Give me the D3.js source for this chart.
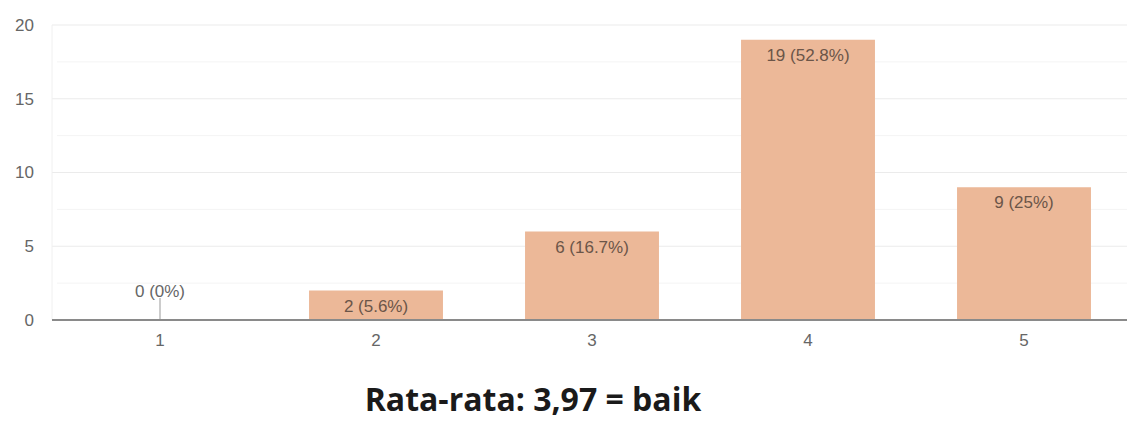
<!DOCTYPE html>
<html><head><meta charset="utf-8">
<script src="https://cdn.jsdelivr.net/npm/d3@7"></script>
<style>body{margin:0;background:#fff}svg{display:block}</style>
</head><body>
<svg id="c" width="1127" height="421"></svg>
<script>
const categories = ["1","2","3","4","5"];
const counts = [0, 2, 6, 19, 9];
const percentLabels = ["0%","5.6%","16.7%","52.8%","25%"];
const yTicks = [0,5,10,15,20];
const minorTicks = [2.5,7.5,12.5,17.5];
const title = "Rata-rata: 3,97 = baik";

const svg = d3.select("#c");
const m = {left:52, right:1132, top:25, bottom:320};
const x = d3.scaleBand().domain(categories).range([m.left, m.right]).paddingInner(0.38).paddingOuter(0.19);
const y = d3.scaleLinear().domain([0,20]).range([m.bottom, m.top]);
const FONT = "Liberation Sans, Arial, sans-serif";

// grid
svg.append("g").selectAll("line").data(minorTicks).join("line")
  .attr("x1", m.left+5).attr("x2", 1127).attr("y1", d=>y(d)).attr("y2", d=>y(d))
  .attr("stroke", "#f4f4f4").attr("stroke-width", 1);
svg.append("g").selectAll("line").data(yTicks.filter(d=>d>0)).join("line")
  .attr("x1", m.left).attr("x2", 1127).attr("y1", d=>y(d)).attr("y2", d=>y(d))
  .attr("stroke", "#ebebeb").attr("stroke-width", 1);
svg.append("line").attr("x1", m.left).attr("x2", m.left).attr("y1", y(20)).attr("y2", y(0))
  .attr("stroke","#f0f0f0");

// y axis labels
const yAxis = d3.axisLeft(y).tickValues(yTicks).tickSize(0).tickPadding(0);
const gy = svg.append("g").attr("transform", `translate(34,0)`).call(yAxis);
gy.select(".domain").remove();
gy.selectAll("text").attr("font-family",FONT).attr("font-size",17).attr("fill","#666");

// bars
const data = categories.map((c,i)=>({c, v:counts[i], p:percentLabels[i]}));
svg.append("g").selectAll("rect").data(data).join("rect")
  .attr("x", d=>x(d.c)).attr("width", x.bandwidth())
  .attr("y", d=>y(d.v)).attr("height", d=>y(0)-y(d.v))
  .attr("fill", "#ecb898");

// zero-value stub
svg.append("g").selectAll("line").data(data.filter(d=>d.v===0)).join("line")
  .attr("x1", d=>x(d.c)+x.bandwidth()/2).attr("x2", d=>x(d.c)+x.bandwidth()/2)
  .attr("y1", y(0)-22).attr("y2", y(0)).attr("stroke","#999").attr("stroke-width",1);

// x axis
const xAxis = d3.axisBottom(x).tickSize(0).tickPadding(14);
const gx = svg.append("g").attr("transform", `translate(0,${y(0)})`).call(xAxis);
gx.select(".domain").remove();
gx.selectAll("text").attr("font-family",FONT).attr("font-size",17).attr("fill","#666");
svg.append("line").attr("x1", m.left).attr("x2", 1127).attr("y1", y(0)).attr("y2", y(0))
  .attr("stroke","#8a8a8a").attr("stroke-width",2);

// value labels
svg.append("g").selectAll("text").data(data).join("text")
  .attr("x", d=>x(d.c)+x.bandwidth()/2)
  .attr("y", d=> d.v===0 ? y(0)-23 : y(d.v)+21)
  .attr("text-anchor","middle")
  .attr("font-family",FONT).attr("font-size",17)
  .attr("fill", d=> d.v===0 ? "#666" : "#6b5548")
  .text(d=>`${d.v} (${d.p})`);

// title
svg.append("text").attr("x", 533).attr("y", 411).attr("text-anchor","middle")
  .attr("font-family","'Open Sans', Lato, sans-serif").attr("font-weight","bold").attr("font-size",32)
  .attr("fill","#1a1a1a").text(title);
</script>
</body></html>
